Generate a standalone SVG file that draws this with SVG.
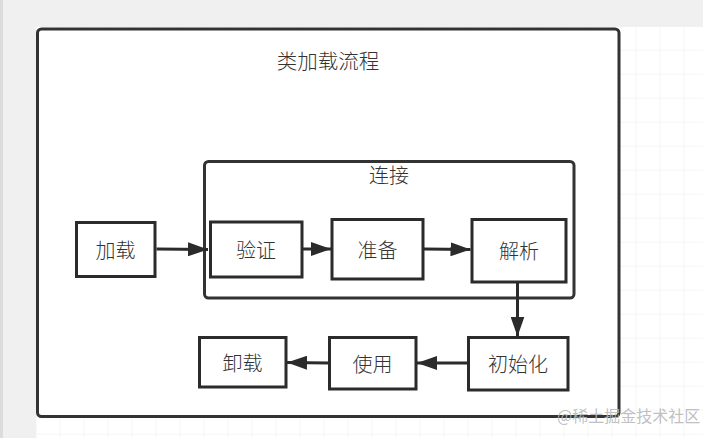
<svg xmlns="http://www.w3.org/2000/svg" width="703" height="438" viewBox="0 0 703 438">
  <defs>
    <pattern id="grid" x="12.7" y="2.7" width="24" height="24" patternUnits="userSpaceOnUse">
      <path d="M24 0 V24 M0 24 H24" fill="none" stroke="#ececec" stroke-width="1"/>
    </pattern>
    <marker id="arrow" markerUnits="userSpaceOnUse" markerWidth="21" markerHeight="14" refX="20" refY="7" orient="auto">
      <path d="M0,0 L20,7 L0,14 z" fill="#2b2b2b"/>
    </marker>
    <style>
      .node rect { fill: #ffffff; stroke: #2b2b2b; stroke-width: 3; }
      .label { font-family: "Noto Sans CJK SC", "Noto Sans", sans-serif; font-size: 20px; fill: #333333; text-anchor: middle; dominant-baseline: central; font-weight: 300; }
      .edge { fill: none; stroke: #2b2b2b; stroke-width: 3; marker-end: url(#arrow); }
      .wm { font-family: "Noto Sans CJK SC", "Noto Sans", sans-serif; font-size: 16px; fill: #b8b8b8; fill-opacity: 0.9; }
    </style>
  </defs>

  <!-- background -->
  <rect x="0" y="0" width="703" height="438" fill="#f0f0f0"/>
  <rect x="0" y="0" width="3" height="438" fill="#dcdcdc"/>
  <rect x="36" y="27" width="667" height="411" fill="#ffffff"/>
  <rect x="36" y="27" width="667" height="411" fill="url(#grid)"/>

  <!-- container -->
  <g id="container">
    <rect x="37.5" y="29" width="581.5" height="387.5" rx="4" fill="#ffffff" stroke="#333333" stroke-width="3"/>
    <text class="label" x="328" y="60" style="font-size:20.5px">类加载流程</text>
  </g>

  <!-- link group -->
  <g id="link">
    <rect x="204.5" y="161.5" width="369.5" height="136.5" rx="4" fill="#ffffff" stroke="#333333" stroke-width="3"/>
    <text class="label" x="389" y="174">连接</text>
  </g>

  <g id="load" class="node">
    <rect x="76.5" y="222.5" width="78.5" height="54"/>
    <text class="label" x="115.5" y="249.5">加载</text>
  </g>
  <g id="verify" class="node">
    <rect x="210.5" y="222" width="91.5" height="55"/>
    <text class="label" x="256" y="249.5">验证</text>
  </g>
  <g id="prepare" class="node">
    <rect x="332" y="219.5" width="91" height="59.5"/>
    <text class="label" x="377.5" y="249">准备</text>
  </g>
  <g id="resolve" class="node">
    <rect x="472" y="219.5" width="94" height="62.5"/>
    <text class="label" x="519" y="250.5">解析</text>
  </g>
  <g id="init" class="node">
    <rect x="468.5" y="337.5" width="99.5" height="52.5"/>
    <text class="label" x="518" y="363.5">初始化</text>
  </g>
  <g id="use" class="node">
    <rect x="329.5" y="337.5" width="86.5" height="51.5"/>
    <text class="label" x="372.5" y="363">使用</text>
  </g>
  <g id="unload" class="node">
    <rect x="199.5" y="337.5" width="86.5" height="49.5"/>
    <text class="label" x="242.5" y="362">卸载</text>
  </g>

  <g id="connectors">
    <path class="edge" d="M156.5 249 L208 249.5"/>
    <path class="edge" d="M302 249 L331 249"/>
    <path class="edge" d="M424 249 L470.5 249.5"/>
    <path class="edge" d="M517.5 282 L517.5 336.5"/>
    <path class="edge" d="M468 363 L417 363"/>
    <path class="edge" d="M329 363 L287 362.5"/>
  </g>

  <text class="wm" x="557" y="422">@稀土掘金技术社区</text>
</svg>
